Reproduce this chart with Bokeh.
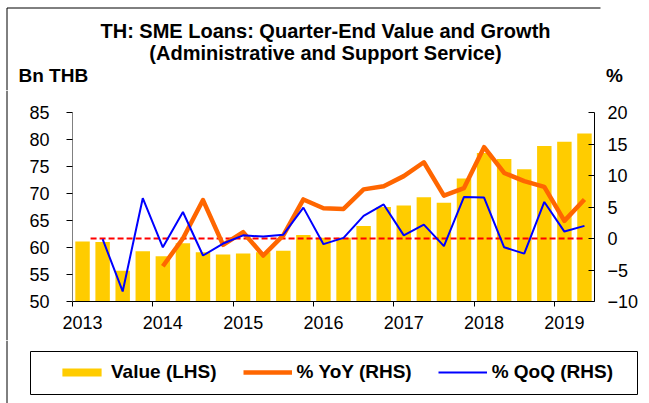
from bokeh.plotting import figure
from bokeh.layouts import column, row
from bokeh.models import Range1d, LinearAxis, FixedTicker, Legend, LegendItem
from bokeh.core.properties import value
from bokeh.embed import file_html
from bokeh.resources import INLINE

# ---------------- data ----------------
quarters = [f"{y}Q{q}" for y in range(2013, 2020) for q in range(1, 5)][:26]
value_lhs = [61.1, 61.0, 55.7, 59.3, 58.4, 60.8, 59.1, 58.7, 58.9, 59.1,
             59.4, 62.3, 61.8, 61.8, 64.0, 67.5, 67.8, 69.3, 68.3, 72.8,
             77.5, 76.4, 74.5, 78.8, 79.6, 81.1]
nan = float("nan")
yoy_rhs = [nan, nan, nan, nan, -4.4, 0.0, 6.1, -1.0, 1.0, -2.7,
           0.5, 6.2, 4.8, 4.7, 7.8, 8.3, 9.9, 12.1, 6.8, 8.0,
           14.5, 10.4, 9.1, 8.2, 2.8, 6.2]
qoq_rhs = [nan, -0.1, -8.4, 6.4, -1.4, 4.2, -2.7, -0.8, 0.5, 0.3,
           0.6, 4.9, -0.9, 0.1, 3.6, 5.4, 0.5, 2.2, -1.2, 6.6,
           6.5, -1.4, -2.4, 5.8, 1.1, 2.0]
year_labels = ["2013", "2014", "2015", "2016", "2017", "2018", "2019"]
left_ticks = [50, 55, 60, 65, 70, 75, 80, 85]
right_ticks = [-10, -5, 0, 5, 10, 15, 20]
series_names = ["Value (LHS)", "% YoY (RHS)", "% QoQ (RHS)"]

title_line1 = "TH: SME Loans: Quarter-End Value and Growth"
title_line2 = "(Administrative and Support Service)"
left_unit = "Bn THB"
right_unit = "%"

FONT = "Liberation Sans"
BAR_C, YOY_C, QOQ_C, ZERO_C = "#FFCC00", "#FF6600", "#0000FF", "#FF0000"
W = 649
STRIP = 8
H_HEAD, H_MAIN, H_FOOT = 90, 250, 63


def bare(fig):
    fig.outline_line_color = None
    fig.background_fill_color = "white"
    fig.border_fill_color = "white"
    return fig


def pixel_fig(w, h):
    f = bare(figure(width=w, height=h, output_backend="svg", title=None,
                    toolbar_location=None, x_axis_type=None, y_axis_type=None,
                    x_range=Range1d(0, w), y_range=Range1d(h, 0),
                    min_border=0))
    f.frame_align = False
    return f


# ---------------- header (titles + unit labels) ----------------
head = pixel_fig(W, H_HEAD)
head.line(x=[6.5, 6.5], y=[7.5, H_HEAD], line_color="black", line_width=1)
head.line(x=[6.5, 600], y=[7.5, 7.5], line_color="black", line_width=1)
head.text(x=[325, 325], y=[30, 52], text=[title_line1, title_line2],
          text_align="center", text_baseline="alphabetic",
          text_font=value(FONT), text_font_size=value("20px"),
          text_font_style="bold", text_color="black")
head.text(x=[18], y=[75], text=[left_unit], text_align="left",
          text_baseline="alphabetic", text_font=value(FONT),
          text_font_size=value("19px"), text_font_style="bold",
          text_color="black")
head.text(x=[614], y=[75], text=[right_unit], text_align="center",
          text_baseline="alphabetic", text_font=value(FONT),
          text_font_size=value("19px"), text_font_style="bold",
          text_color="black")

# ---------------- main chart ----------------
strip = pixel_fig(STRIP, H_MAIN)
strip.line(x=[6.5, 6.5], y=[0, H_MAIN], line_color="black", line_width=1)

x = [i + 0.5 for i in range(len(quarters))]
n = len(quarters)

p = bare(figure(width=W - STRIP, height=H_MAIN, output_backend="svg",
                title=None, toolbar_location=None,
                x_range=Range1d(0, n), y_range=Range1d(50, 85),
                min_border_left=72 - STRIP, min_border_right=55,
                min_border_top=22, min_border_bottom=39))
p.extra_y_ranges = {"pct": Range1d(-10, 20)}
p.xgrid.visible = False
p.ygrid.visible = False

p.vbar(x=x, top=value_lhs, bottom=50, width=0.72,
       fill_color=BAR_C, line_color=None)
p.line(x=[x[0] + 0.4, x[-1] + 0.05], y=[0, 0], y_range_name="pct",
       line_color=ZERO_C, line_width=2, line_dash="6 3")
p.line(x=x, y=yoy_rhs, y_range_name="pct", line_color=YOY_C,
       line_width=4.5, line_join="round")
p.line(x=x, y=qoq_rhs, y_range_name="pct", line_color=QOQ_C,
       line_width=2)

xa = p.xaxis[0]
xa.ticker = FixedTicker(ticks=[4 * i + 0.5 for i in range(len(year_labels))],
                        minor_ticks=[4 * i for i in range(len(year_labels))])
xa.major_label_overrides = {4 * i + 0.5: lab for i, lab in enumerate(year_labels)}
xa.major_tick_line_color = None
xa.major_tick_out = 0
xa.major_tick_in = 0
xa.minor_tick_out = 5
xa.minor_tick_in = 0
xa.minor_tick_line_color = "black"
xa.axis_line_color = "black"
xa.major_label_standoff = 9
xa.major_label_text_font = FONT
xa.major_label_text_font_size = "18px"
xa.major_label_text_color = "black"

ya = p.yaxis[0]
ya.ticker = FixedTicker(ticks=left_ticks)
ya.major_tick_out = 6
ya.major_tick_in = 0
ya.minor_tick_line_color = None
ya.axis_line_color = "#808080"
ya.major_tick_line_color = "black"
ya.major_label_standoff = 17
ya.major_label_text_font = FONT
ya.major_label_text_font_size = "18px"
ya.major_label_text_color = "black"

ra = LinearAxis(y_range_name="pct", ticker=FixedTicker(ticks=right_ticks))
ra.major_tick_out = 0
ra.major_tick_in = 6
ra.minor_tick_line_color = None
ra.axis_line_color = "black"
ra.major_tick_line_color = "black"
ra.major_label_standoff = 13
ra.major_label_text_font = FONT
ra.major_label_text_font_size = "18px"
ra.major_label_text_color = "black"
p.add_layout(ra, "right")

# ---------------- footer (legend) ----------------
foot = pixel_fig(W, H_FOOT)
foot.line(x=[6.5, 6.5], y=[0, H_FOOT], line_color="black", line_width=1)
foot.quad(left=[30], right=[637], top=[11], bottom=[54],
          fill_color=None, line_color="black", line_width=1)
# legend-only glyphs, placed outside the visible area
off = [-1000]
lg_bar = foot.vbar(x=off, top=off, bottom=-1001, width=1,
                   fill_color=BAR_C, line_color=None)
lg_yoy = foot.line(x=off, y=off, line_color=YOY_C, line_width=4.5)
lg_qoq = foot.line(x=off, y=off, line_color=QOQ_C, line_width=2)
legend = Legend(items=[LegendItem(label=series_names[0], renderers=[lg_bar]),
                       LegendItem(label=series_names[1], renderers=[lg_yoy]),
                       LegendItem(label=series_names[2], renderers=[lg_qoq])],
                location=(46, 9), orientation="horizontal",
                padding=11, spacing=26, label_standoff=5,
                glyph_width=49, glyph_height=10, margin=0,
                label_text_font=FONT, label_text_font_size="19px",
                label_text_font_style="bold", label_text_color="black",
                border_line_alpha=0, background_fill_alpha=0)
foot.add_layout(legend)

layout = column(head, row(strip, p, spacing=0), foot, spacing=0)
open("out.html", "w").write(file_html(layout, INLINE))
